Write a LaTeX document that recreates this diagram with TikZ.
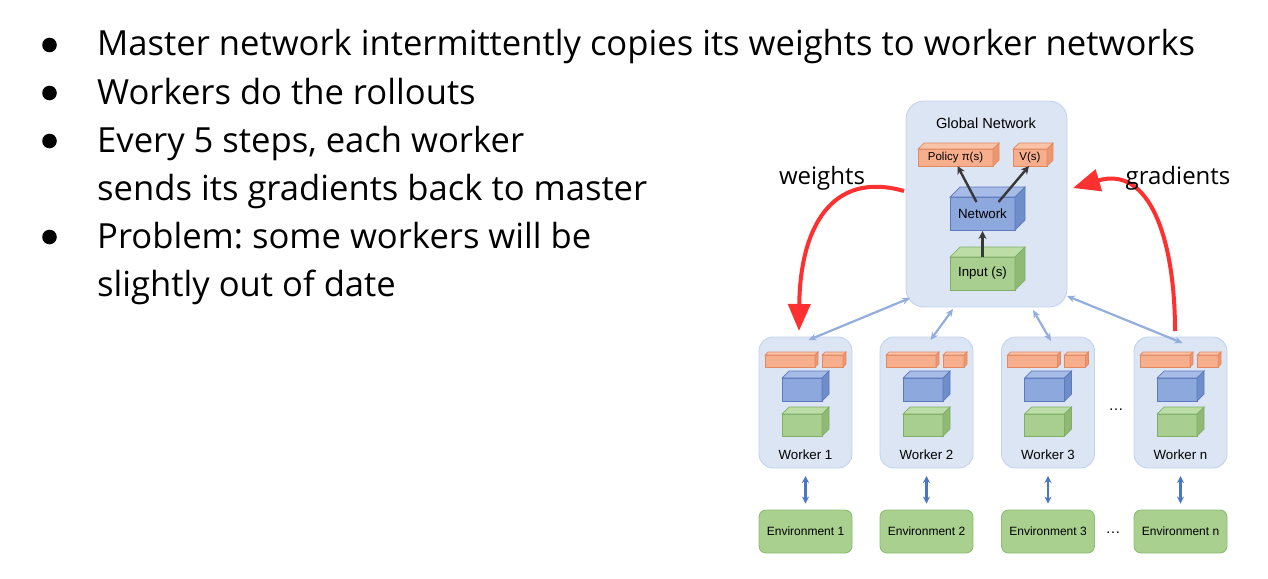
\documentclass[tikz,border=0pt]{standalone}
\usepackage{fontspec}
\setmainfont{Open Sans}
\newfontfamily\hv{Liberation Sans}
\usetikzlibrary{arrows.meta,calc}
\definecolor{panelfill}{HTML}{DCE5F4}
\definecolor{paneldraw}{HTML}{C3D2EC}
\definecolor{orfront}{HTML}{F7AE8C}
\definecolor{ortop}{HTML}{FAC3A8}
\definecolor{orside}{HTML}{EE9670}
\definecolor{ordraw}{HTML}{E08A62}
\definecolor{blfront}{HTML}{8DA8DC}
\definecolor{bltop}{HTML}{A6BCE6}
\definecolor{blside}{HTML}{6F8DC8}
\definecolor{bldraw}{HTML}{5B79BD}
\definecolor{grfront}{HTML}{A8CF8F}
\definecolor{grtop}{HTML}{BCDDA6}
\definecolor{grside}{HTML}{8FB975}
\definecolor{grdraw}{HTML}{80AE66}
\definecolor{envfill}{HTML}{A9D08E}
\definecolor{envdraw}{HTML}{8CBD70}
\definecolor{linkblue}{HTML}{93AEDD}
\definecolor{envarrow}{HTML}{4A76C4}
\definecolor{redarrow}{HTML}{FF3030}
\tikzset{
  panel/.style={draw=paneldraw, fill=panelfill, line width=0.9, rounded corners=18, inner sep=0, outer sep=0},
  face/.style={inner sep=0, outer sep=0, line width=0.7, font=\hv\fontsize{11.5}{12}\selectfont},
  envbox/.style={draw=envdraw, fill=envfill, line width=0.9, rounded corners=7, minimum width=93, minimum height=43, inner sep=0, font=\hv\fontsize{12}{13}\selectfont},
  wlabel/.style={font=\hv\fontsize{13.3}{15}\selectfont, inner sep=0},
  bullettext/.style={anchor=base west, inner sep=0, font=\fontsize{34.6}{40}\selectfont},
  link/.style={draw=linkblue, line width=2.2, {Stealth[length=8,width=7]}-{Stealth[length=8,width=7]}},
  envlink/.style={draw=envarrow, line width=2.2, {Stealth[length=7,width=7]}-{Stealth[length=7,width=7]}},
  darrow/.style={draw=black!78, line width=2.4, -{Stealth[length=8,width=8]}},
  redlink/.style={draw=redarrow, line width=4, -{Triangle[length=27,width=22]}},
  redlabel/.style={font=\fontsize{24}{28}\selectfont, inner sep=0},
}
% #1 name, #2 front centre, #3 width, #4 height, #5 depth, #6 colour prefix, #7 text
\newcommand\cubebox[7]{%
  \node[face, draw=#6draw, fill=#6front, minimum width=#3, minimum height=#4] (#1) at (#2) {#7};
  \draw[line width=0.7, draw=#6draw, fill=#6top] (#1.north west) -- ++(#5,-#5) -- ([shift={(#5,-#5)}]#1.north east) -- (#1.north east) -- cycle;
  \draw[line width=0.7, draw=#6draw, fill=#6side] (#1.north east) -- ++(#5,-#5) -- ([shift={(#5,-#5)}]#1.south east) -- (#1.south east) -- cycle;
}
\frenchspacing
\begin{document}
\begin{tikzpicture}[x=1pt,y=-1pt]
\useasboundingbox (0,0) rectangle (1268,578);
% bullets
\foreach \yy in {45,93,141,237}{
  \fill (49.5,\yy) circle[radius=7.3];
}
\node[bullettext] (t1) at (97,56) {Master network intermittently copies its weights to worker networks};
\node[bullettext] (t2) at (97,104) {Workers do the rollouts};
\node[bullettext] (t3) at (97,152) {Every 5 steps, each worker};
\node[bullettext] (t4) at (97,200) {sends its gradients back to master};
\node[bullettext] (t5) at (97,248) {Problem: some workers will be};
\node[bullettext] (t6) at (97,296) {slightly out of date};

% global network
\node[panel, minimum width=161, minimum height=206] (global) at (986.5,204) {};
\node[font=\hv\fontsize{14.6}{16}\selectfont, inner sep=0] (gtitle) at (986,123) {Global Network};
\cubebox{policy}{955.5,157.5}{75}{17}{6}{or}{Policy π(s)}
\cubebox{value}{1030,157.5}{34}{17}{6}{or}{V(s)}
\cubebox{network}{982.5,213.5}{65}{33}{10}{bl}{\fontsize{13.3}{15}\selectfont Network}
\cubebox{input}{982.5,273.5}{65}{33}{10}{gr}{\fontsize{13.3}{15}\selectfont Input (s)}
\draw[darrow] (input.north) -- ([yshift=-1]network.south);
\draw[darrow] ([xshift=-6,yshift=-5]network.north) -- ([xshift=2]policy.south);
\draw[darrow] ([xshift=16,yshift=-5]network.north) -- ([xshift=-1]value.south);

% workers
\foreach \i/\cx/\lab in {1/805.5/Worker 1,2/926.5/Worker 2,3/1048/Worker 3,n/1180.5/Worker n}{
  \node[panel, rounded corners=14, minimum width=93, minimum height=131] (w\i) at (\cx,402.5) {};
  \node[wlabel] (wl\i) at (\cx,455) {\lab};
  \cubebox{wp\i}{\cx-15.5,361}{50}{12}{3}{or}{}
  \cubebox{wv\i}{\cx+27,361}{21}{12}{3}{or}{}
  \cubebox{wn\i}{\cx-3.5,389.5}{40}{23}{7}{bl}{}
  \cubebox{wi\i}{\cx-3.5,425}{40}{22}{7}{gr}{}
  \node[envbox] (e\i) at (\cx,531.5) {Environment \i};
  \draw[envlink] ([yshift=-8]w\i.south) -- ([yshift=6]e\i.north);
}
\node[font=\hv\fontsize{15}{15}\selectfont, inner sep=0] (dotsw) at (1116,410) {\dots};
\node[font=\hv\fontsize{15}{15}\selectfont, inner sep=0] (dotse) at (1113,533) {\dots};

% links global <-> workers
\coordinate (g1) at (910,298);
\coordinate (g2) at (953,309);
\coordinate (g3) at (1033,310);
\coordinate (g4) at (1067,296);
\draw[link] ([xshift=3,yshift=-3]w1.north) -- (g1);
\draw[link] ([xshift=4,yshift=-3]w2.north) -- (g2);
\draw[link] ([xshift=3,yshift=-4]w3.north) -- (g3);
\draw[link] ([xshift=2,yshift=-6]wn.north) -- (g4);

% red arrows
\coordinate (rw1) at (904,191);
\coordinate (rw2) at (799,331);
\draw[redlink] (rw1) .. controls (830,170) and (800,230) .. (rw2);
\coordinate (rg1) at (1175,331);
\coordinate (rg2) at (1073,188);
\draw[redlink] (rg1) .. controls (1175,240) and (1150,165) .. (rg2);
\node[redlabel] (lw) at (822,178) {weights};
\node[redlabel] (lg) at (1178,178) {gradients};
\end{tikzpicture}
\end{document}
